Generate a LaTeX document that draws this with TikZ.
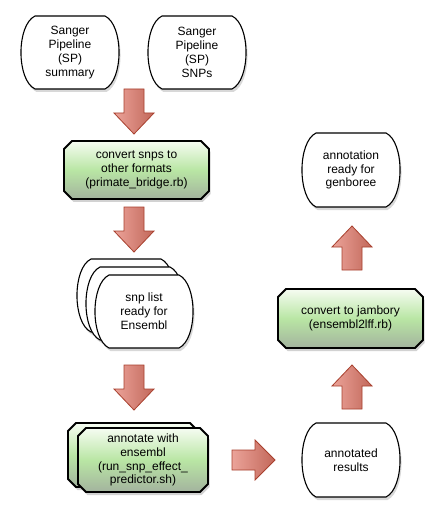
\documentclass[tikz,border=0pt]{standalone}
\usepackage{fontspec}
\setmainfont{Liberation Sans}
\usetikzlibrary{shadows}
\definecolor{arrL}{HTML}{EBA399}
\definecolor{arrR}{HTML}{C2675A}
\definecolor{arrB}{HTML}{A8402E}
\definecolor{gTop}{HTML}{F6FCF2}
\definecolor{gMid}{HTML}{B9E6A4}
\definecolor{gBot}{HTML}{A3B39E}
\newcommand\procshape[4]{%
  \path[procfill] ({#1-#3/2+8},{#2-#4/2}) -- ({#1+#3/2-8},{#2-#4/2}) -- ({#1+#3/2},{#2-#4/2+8}) -- ({#1+#3/2},{#2+#4/2-8}) -- ({#1+#3/2-8},{#2+#4/2}) -- ({#1-#3/2+8},{#2+#4/2}) -- ({#1-#3/2},{#2+#4/2-8}) -- ({#1-#3/2},{#2-#4/2+8}) -- cycle;}
\newcommand\termshape[4]{%
  \path[termfill] ({#1-#3/2+14},{#2-#4/2}) -- ({#1+#3/2-14},{#2-#4/2})
    .. controls ({#1+#3/2+4.7},{#2-#4/2+9}) and ({#1+#3/2+4.7},{#2+#4/2-9}) .. ({#1+#3/2-14},{#2+#4/2})
    -- ({#1-#3/2+14},{#2+#4/2})
    .. controls ({#1-#3/2-4.7},{#2+#4/2-9}) and ({#1-#3/2-4.7},{#2-#4/2+9}) .. ({#1-#3/2+14},{#2-#4/2})
    -- cycle;}
\tikzset{
  txt/.style={font=\fontsize{12}{13.8}\selectfont, align=center, inner sep=0pt},
  termfill/.style={draw=black, line width=1.1pt, fill=white,
    drop shadow={opacity=0.3, shadow xshift=1.5pt, shadow yshift=-3pt}},
  procfill/.style={draw=black, line width=1.8pt, top color=gTop, bottom color=gBot, middle color=gMid,
    drop shadow={opacity=0.35, shadow xshift=1.5pt, shadow yshift=-3pt}},
  arrstyle/.style={draw=arrB, line width=0.8pt, left color=arrL, right color=arrR},
  downarr/.pic={\path[arrstyle] (-10,0) -- (-10,24) -- (-20,24) -- (0,45) -- (20,24) -- (10,24) -- (10,0) -- cycle;},
  uparr/.pic={\path[arrstyle] (-10,0) -- (-10,-23) -- (-20,-23) -- (0,-44) -- (20,-23) -- (10,-23) -- (10,0) -- cycle;},
  rightarr/.pic={\path[arrstyle] (0,-10) -- (23,-10) -- (23,-20) -- (43,0) -- (23,20) -- (23,10) -- (0,10) -- cycle;},
}
\begin{document}
\begin{tikzpicture}[x=1pt,y=-1pt]
\useasboundingbox[fill=white] (0,0) rectangle (442,521);
% top terminals
\termshape{70}{52.5}{98}{73}
\node[txt] (sum) at (70,52.5) {Sanger\\Pipeline\\(SP)\\summary};
\termshape{197}{52.5}{98}{73}
\node[txt] (snps) at (197,52.5) {Sanger\\Pipeline\\(SP)\\SNPs};
\pic (a1) at (134,89) {downarr};
% convert
\procshape{136.5}{170}{145}{58}
\node[txt] (conv) at (136.5,170) {convert snps to\\other formats\\(primate\_bridge.rb)};
\pic (a2) at (134,207) {downarr};
% snp list stack
\termshape{126}{295.5}{98}{73}
\node (snpb) at (126,295.5) {};
\termshape{135}{303.5}{98}{73}
\node (snpm) at (135,303.5) {};
\termshape{144}{311.5}{98}{73}
\node[txt] (snp) at (144,311.5) {snp list\\ready for\\Ensembl};
\pic (a3) at (134,365) {downarr};
% annotate stack
\procshape{133}{455}{130}{64}
\procshape{143}{460}{130}{64}
\node[txt] (ann) at (143,460) {annotate with\\ensembl\\(run\_snp\_effect\_\\predictor.sh)};
\pic (a4) at (232,460) {rightarr};
% right column
\termshape{351}{460}{98}{74}
\node[txt] (res) at (351,460) {annotated\\results};
\pic (a5) at (352,409) {uparr};
\procshape{350.5}{318.5}{145}{59}
\node[txt] (jam) at (350.5,318.5) {convert to jambory\\(ensembl2lff.rb)};
\pic (a6) at (352,270) {uparr};
\termshape{351}{170}{98}{74}
\node[txt] (gen) at (351,170) {annotation\\ready for\\genboree};
\end{tikzpicture}
\end{document}
